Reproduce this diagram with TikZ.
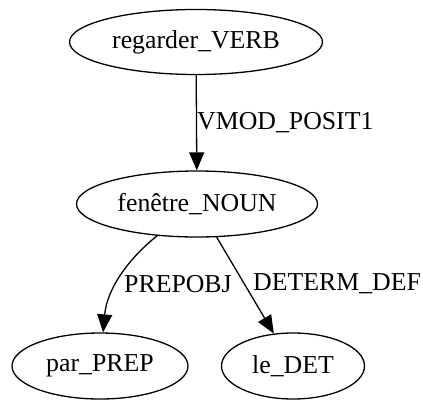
\documentclass[tikz,border=0pt]{standalone}
\usepackage{fontspec}
\setmainfont{Liberation Serif}
\usetikzlibrary{shapes.geometric,arrows.meta}
\tikzset{
  word/.style={ellipse,draw,line width=1.3pt,inner sep=0pt,font=\fontsize{25.8}{30}\selectfont},
  dep/.style={line width=1.3pt,-{Triangle[length=18pt,width=15pt]}},
  rel/.style={anchor=west,inner sep=0pt,font=\fontsize{25.8}{30}\selectfont}
}
\begin{document}
\begin{tikzpicture}[x=1pt,y=-1pt]
\useasboundingbox (0,0) rectangle (423,400);
\node[word,minimum width=253pt,minimum height=65pt] (r) at (196,42) {regarder\_VERB};
\node[word,minimum width=241pt,minimum height=66pt] (f) at (197,204) {fenêtre\_NOUN};
\node[word,minimum width=176pt,minimum height=66pt] (p) at (100,366) {par\_PREP};
\node[word,minimum width=143pt,minimum height=66pt] (l) at (293,366) {le\_DET};
\draw[dep] (r) -- (f);
\draw[dep] (f) .. controls (128,259) and (107,289) .. (p);
\draw[dep] (f) -- (l);
\node[rel] (t1) at (197,123) {VMOD\_POSIT1};
\node[rel] (t2) at (124,284) {PREPOBJ};
\node[rel] (t3) at (253,284) {DETERM\_DEF};
\end{tikzpicture}
\end{document}
